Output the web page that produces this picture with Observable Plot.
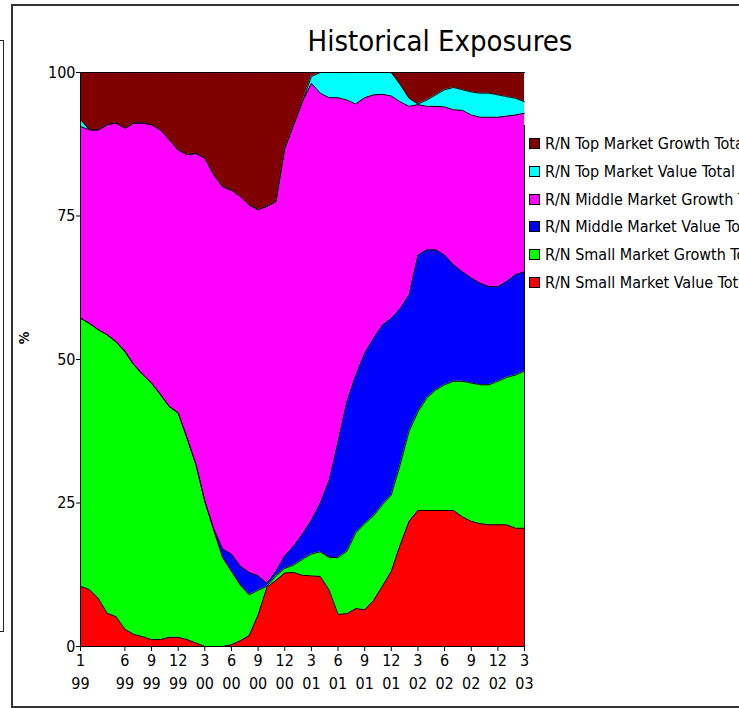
<!DOCTYPE html>
<html><head><meta charset="utf-8">
<script src="https://cdn.jsdelivr.net/npm/d3@7"></script>
<script src="https://cdn.jsdelivr.net/npm/@observablehq/plot@0.6"></script>
<style>
html,body{margin:0;padding:0;background:#fff;overflow:hidden;width:739px;height:708px}
#wrap{position:relative;width:739px;height:708px;overflow:hidden}
.nf{font-family:"Liberation Sans Narrow","Arial Narrow","DejaVu Sans Condensed",sans-serif}
#title{position:absolute;left:240px;width:400px;top:24px;text-align:center;font-size:29px;color:#000;white-space:nowrap}
#legend{position:absolute;left:529px;top:130px;font-size:16px;color:#000;white-space:nowrap}
.row{height:27.7px;display:flex;align-items:center}
.sw{width:9px;height:9px;border:1px solid #000;margin-right:5px;flex:none}
#ylab{position:absolute;left:18px;top:330px;font-size:14px;font-weight:bold;transform:rotate(-90deg)}
.box1{position:absolute;left:-6px;top:40px;width:8px;height:590px;border:1px solid #222}
.box2{position:absolute;left:11px;top:4px;width:800px;height:700px;border:2px solid #333}
.edge{position:absolute;left:524px;top:125px;width:1px;height:522px;background:#000}
svg{position:absolute;left:0;top:0}
</style></head>
<body><div id="wrap">
<div class="box1"></div><div class="box2"></div>
<div id="title" class="nf">Historical Exposures</div>
<div id="ylab" class="nf">%</div>
<div id="legend" class="nf"></div>
</div>
<script>
const months = ["1/99","2/99","3/99","4/99","5/99","6/99","7/99","8/99","9/99","10/99","11/99","12/99",
"1/00","2/00","3/00","4/00","5/00","6/00","7/00","8/00","9/00","10/00","11/00","12/00",
"1/01","2/01","3/01","4/01","5/01","6/01","7/01","8/01","9/01","10/01","11/01","12/01",
"1/02","2/02","3/02","4/02","5/02","6/02","7/02","8/02","9/02","10/02","11/02","12/02",
"1/03","2/03","3/03"];

const seriesNames = ["R/N Small Market Value Total","R/N Small Market Growth Total","R/N Middle Market Value Total","R/N Middle Market Growth Total","R/N Top Market Value Total","R/N Top Market Growth Total"];
const seriesColors = ["#ff0000","#00ff00","#0000ff","#ff00ff","#00ffff","#800000"];

const smallValue  = [10.5,9.9,8.4,5.8,5.2,3.0,2.1,1.7,1.2,1.2,1.6,1.6,1.2,0.6,0,0,0,0.3,1.0,1.9,5.5,10.3,11.5,12.8,12.9,12.4,12.3,12.2,9.8,5.6,5.7,6.6,6.4,8.0,10.5,13.1,17.7,21.8,23.7,23.7,23.7,23.7,23.7,22.6,21.8,21.4,21.2,21.2,21.2,20.6,20.6];
const smallGrowth = [46.7,46.4,46.8,48.5,47.9,48.4,47.0,45.7,44.7,42.7,40.2,39.1,35.1,31.1,25.3,20.3,15.5,12.8,9.7,7.1,4.3,0.2,0.8,0.8,1.3,2.8,3.8,4.3,5.7,9.9,10.9,13.2,15.0,14.8,14.2,13.3,14.0,15.7,17.2,19.6,21.0,21.9,22.5,23.6,24.1,24.2,24.4,25.0,25.7,26.7,27.4];
const middleValue = [0,0,0,0,0,0,0,0,0,0,0,0,0,0,0,0.2,1.5,3.0,3.3,3.9,2.5,0.5,0.8,2.2,3.3,4.4,5.9,8.5,13.5,20.2,26.1,27.5,29.7,30.9,31.3,30.8,27.2,23.8,27.3,25.8,24.4,22.6,20.3,19.1,18.3,17.7,17.1,16.5,16.7,17.5,17.3];
const middleGrowth= [33.4,33.7,34.8,36.6,38.1,38.9,42.1,43.8,45.0,46.1,46.5,45.8,49.4,54.2,59.8,61.7,63.1,63.4,64.4,64.0,63.8,65.7,64.4,71.0,73.4,75.4,76.1,71.4,66.6,59.9,52.5,47.2,44.5,42.4,40.2,38.7,36.0,32.8,26.2,25.0,25.0,25.8,27.0,28.1,28.4,28.9,29.5,29.5,28.8,27.8,27.6];
const topValue    = [1.2,0,0,0,0,0,0,0,0,0,0,0,0,0,0,0,0,0,0,0,0,0,0,0,0,0,1.2,3.6,4.4,4.4,4.8,5.5,4.4,3.9,3.8,4.1,3.0,1.4,0.1,1.1,2.0,3.0,3.9,3.6,4.0,4.2,4.2,3.9,3.4,2.9,2.0];
const topGrowth   = [8.2,10.0,10.0,9.1,8.8,9.7,8.8,8.8,9.1,10.0,11.7,13.5,14.3,14.1,14.9,17.8,19.9,20.5,21.6,23.1,23.9,23.3,22.5,13.2,9.1,5.0,0.7,0,0,0,0,0,0,0,0,0,2.1,4.5,5.5,4.8,3.9,3.0,2.6,3.0,3.4,3.6,3.6,3.9,4.2,4.5,5.1];

const yTicks = [0, 25, 50, 75, 100];
const xTickMonths = ["1/99","6/99","9/99","12/99","3/00","6/00","9/00","12/00","3/01","6/01","9/01","12/01","3/02","6/02","9/02","12/02","3/03"];
const xTickTop = ["1","6","9","12","3","6","9","12","3","6","9","12","3","6","9","12","3"];
const xTickBottom = ["99","99","99","99","00","00","00","00","01","01","01","01","02","02","02","02","03"];

const seriesValues = [smallValue, smallGrowth, middleValue, middleGrowth, topValue, topGrowth];
const rows = [];
seriesNames.forEach((name, k) => seriesValues[k].forEach((v, i) => rows.push({month: months[i], idx: i, value: v, series: name})));
const tickIdx = xTickMonths.map(m => months.indexOf(m));

const font = '"Liberation Sans Narrow","Arial Narrow","DejaVu Sans Condensed",sans-serif';
const chart = Plot.plot({
  width: 739, height: 708,
  marginLeft: 80, marginRight: 215, marginTop: 72, marginBottom: 62,
  x: {domain: [0, months.length - 1]},
  y: {domain: [0, 100]},
  color: {domain: seriesNames, range: seriesColors},
  style: {fontFamily: font, background: "transparent", color: "black", overflow: "visible"},
  marks: [
    Plot.areaY(rows, {x: "idx", y: "value", z: "series", fill: "series", order: seriesNames}),
    Plot.lineY(rows, Plot.stackY2({x: "idx", y: "value", z: "series", order: seriesNames, stroke: "black", strokeWidth: 1})),
    Plot.ruleX([0], {stroke: "black"}),
    Plot.ruleY([0], {stroke: "black"}),
    Plot.axisY({ticks: yTicks, tickSize: 4, tickPadding: 1, fontSize: 16, label: null, tickFormat: d => String(d)}),
    Plot.axisX({ticks: tickIdx, tickSize: 5, tickPadding: 3, fontSize: 16, label: null, tickFormat: d => xTickTop[tickIdx.indexOf(d)]}),
    Plot.axisX({ticks: tickIdx, tickSize: 0, tickPadding: 31, fontSize: 16, label: null, tickFormat: d => xTickBottom[tickIdx.indexOf(d)]})
  ]
});
document.getElementById("wrap").appendChild(chart);
const edge = document.createElement("div"); edge.className = "edge"; document.getElementById("wrap").appendChild(edge);

const legendOrder = [5, 4, 3, 2, 1, 0];
const leg = document.getElementById("legend");
legendOrder.forEach(k => {
  const r = document.createElement("div"); r.className = "row";
  const s = document.createElement("div"); s.className = "sw"; s.style.background = seriesColors[k];
  const t = document.createElement("span"); t.textContent = seriesNames[k];
  r.appendChild(s); r.appendChild(t); leg.appendChild(r);
});
</script>
</body></html>
